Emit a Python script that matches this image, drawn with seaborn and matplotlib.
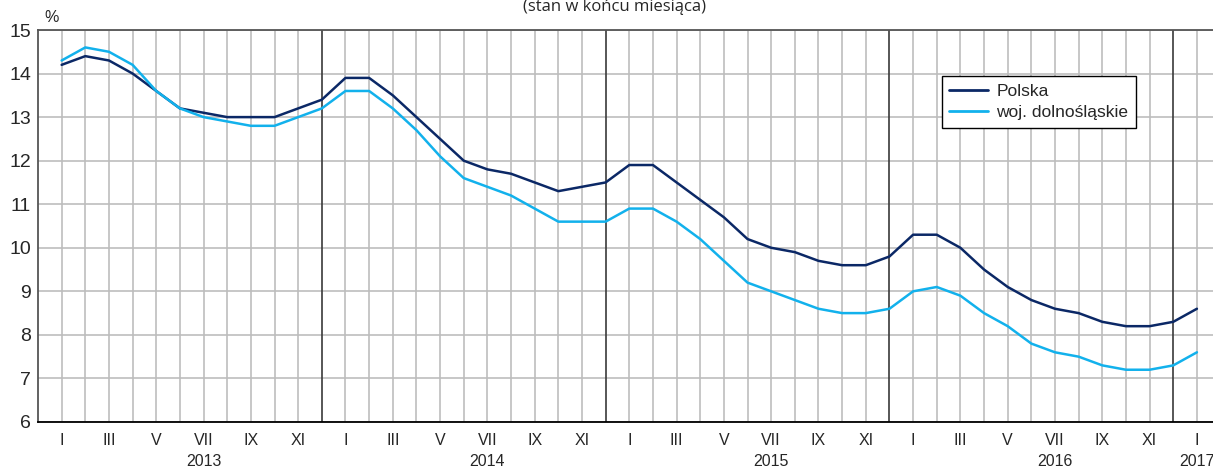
import pandas as pd
import matplotlib
matplotlib.use('Agg')
import matplotlib.pyplot as plt
import matplotlib.transforms as mtransforms
import seaborn as sns

# dane: stopa bezrobocia (stan w końcu miesiąca), I 2013 - I 2017
polska = [14.2, 14.4, 14.3, 14.0, 13.6, 13.2, 13.1, 13.0, 13.0, 13.0, 13.2, 13.4,
          13.9, 13.9, 13.5, 13.0, 12.5, 12.0, 11.8, 11.7, 11.5, 11.3, 11.4, 11.5,
          11.9, 11.9, 11.5, 11.1, 10.7, 10.2, 10.0, 9.9, 9.7, 9.6, 9.6, 9.8,
          10.3, 10.3, 10.0, 9.5, 9.1, 8.8, 8.6, 8.5, 8.3, 8.2, 8.2, 8.3,
          8.6]
dolnoslaskie = [14.3, 14.6, 14.5, 14.2, 13.6, 13.2, 13.0, 12.9, 12.8, 12.8, 13.0, 13.2,
                13.6, 13.6, 13.2, 12.7, 12.1, 11.6, 11.4, 11.2, 10.9, 10.6, 10.6, 10.6,
                10.9, 10.9, 10.6, 10.2, 9.7, 9.2, 9.0, 8.8, 8.6, 8.5, 8.5, 8.6,
                9.0, 9.1, 8.9, 8.5, 8.2, 7.8, 7.6, 7.5, 7.3, 7.2, 7.2, 7.3,
                7.6]
series_names = ['Polska', 'woj. dolnośląskie']
series_colors = ['#0b2866', '#12b1ec']
month_labels = ['I', '', 'III', '', 'V', '', 'VII', '', 'IX', '', 'XI', '']
years = ['2013', '2014', '2015', '2016', '2017']
year_pos = [6, 18, 30, 42, 48]
year_breaks = [11, 23, 35, 47]

n = len(polska)
months = list(range(n))
df = pd.DataFrame({
    'miesiac': months * 2,
    'wartosc': polska + dolnoslaskie,
    'seria': [series_names[0]] * n + [series_names[1]] * n,
})

sns.set_style('white')
plt.rcParams['font.family'] = ['Liberation Sans', 'DejaVu Sans']

W, H = 1213, 468
fig = plt.figure(figsize=(W / 100, H / 100), dpi=100)
ax = fig.add_axes([38 / W, (H - 422) / H, (W - 38) / W, (422 - 30) / H])

# siatka
for y in range(6, 16):
    ax.axhline(y, color='#bdbdbd', lw=1.2, zorder=0)
for m in months:
    if m in year_breaks:
        ax.axvline(m, color='#3a3a3a', lw=1.2, zorder=0.5)
    else:
        ax.axvline(m, color='#bdbdbd', lw=1.2, zorder=0)

sns.lineplot(data=df, x='miesiac', y='wartosc', hue='seria',
             palette=dict(zip(series_names, series_colors)),
             linewidth=1.8, ax=ax, legend=False, zorder=3)

ax.set_xlim(-1, 48.68)
ax.set_ylim(6, 15)
ax.set_yticks(range(6, 16))
ax.tick_params(axis='y', labelsize=14, length=0, pad=5)
ax.set_xticks(months)
ax.set_xticklabels([month_labels[m % 12] for m in months])
ax.tick_params(axis='x', labelsize=11.5, direction='inout', length=6,
               width=1, color='black', pad=5)
ax.set_xlabel('')
ax.set_ylabel('')

for s in ['left', 'top']:
    ax.spines[s].set_color('#555555')
    ax.spines[s].set_linewidth(1.3)
ax.spines['bottom'].set_color('black')
ax.spines['bottom'].set_linewidth(1.3)
ax.spines['right'].set_visible(False)

trans = mtransforms.blended_transform_factory(ax.transData, fig.transFigure)
for yr, pos in zip(years, year_pos):
    ax.text(pos, 1 - 461 / H, yr, transform=trans, ha='center', va='center',
            fontsize=11.5, clip_on=False)

fig.text(52 / W, 1 - 17 / H, '%', ha='center', va='center', fontsize=11.5)
fig.text(615 / W, 1 - 7 / H, '(stan w końcu miesiąca)', ha='center', va='center',
         fontsize=12, family=['Open Sans', 'DejaVu Sans'])

handles = [plt.Line2D([], [], color=c, lw=2) for c in series_colors]
leg = ax.legend(handles, series_names, loc='upper left',
                bbox_to_anchor=(0.769, 0.882), fontsize=12.5, frameon=True,
                fancybox=False, handlelength=2.2, handletextpad=0.5,
                borderpad=0.45, labelspacing=0.35, borderaxespad=0)
leg.get_frame().set_edgecolor('black')
leg.get_frame().set_linewidth(1.0)
leg.get_frame().set_alpha(1)

fig.savefig('out.png', dpi=100, facecolor='white')
